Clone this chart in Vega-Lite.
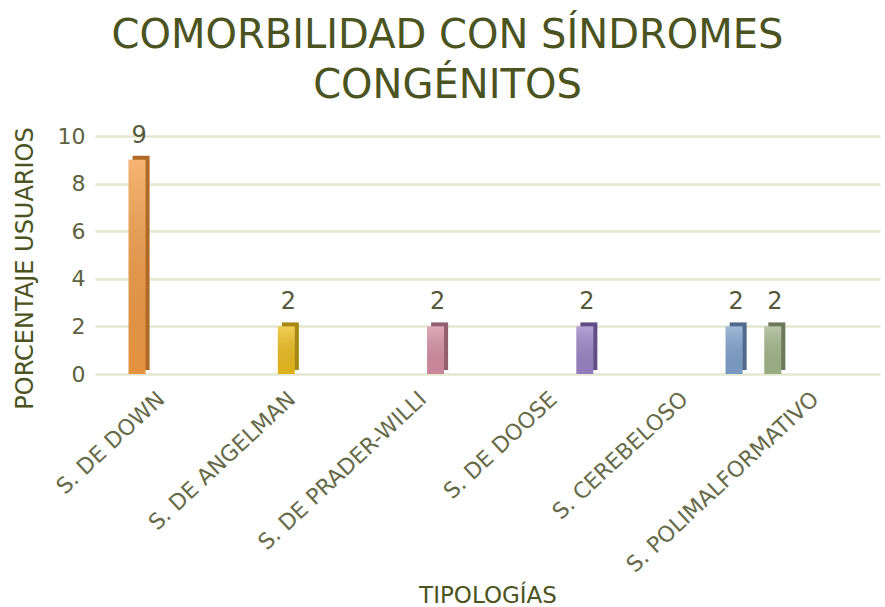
{
  "$schema": "https://vega.github.io/schema/vega-lite/v6.json",
  "width": 785,
  "height": 238,
  "autosize": {"type": "none"},
  "padding": {"left": 95, "top": 136, "right": 5, "bottom": 233},
  "background": "white",
  "config": {"view": {"stroke": null}, "font": "DejaVu Sans"},
  "title": {
    "text": ["COMORBILIDAD CON SÍNDROMES", "CONGÉNITOS"],
    "fontSize": 40,
    "fontWeight": "normal",
    "color": "#4B5320",
    "lineHeight": 50,
    "anchor": "middle",
    "dx": -40,
    "offset": 18
  },
  "data": {
    "values": [
      {"tipologia": "S. DE DOWN", "serie": "B", "valor": 9},
      {"tipologia": "S. DE ANGELMAN", "serie": "C", "valor": 2},
      {"tipologia": "S. DE PRADER-WILLI", "serie": "D", "valor": 2},
      {"tipologia": "S. DE DOOSE", "serie": "E", "valor": 2},
      {"tipologia": "S. CEREBELOSO", "serie": "F", "valor": 2},
      {"tipologia": "S. POLIMALFORMATIVO", "serie": "A", "valor": 2}
    ]
  },
  "encoding": {
    "x": {
      "field": "tipologia",
      "type": "nominal",
      "sort": null,
      "scale": {"paddingInner": 0, "paddingOuter": 0},
      "axis": {
        "title": "TIPOLOGÍAS",
        "titleFontSize": 23,
        "titleFontWeight": "normal",
        "titleColor": "#4B5320",
        "titleY": 221,
        "titleBaseline": "middle",
        "labelAngle": -43,
        "labelFontSize": 22,
        "labelColor": "#666A48",
        "labelPadding": 14,
        "labelOffset": -6,
        "labelLimit": 400,
        "ticks": false,
        "domain": false
      }
    },
    "y": {
      "field": "valor",
      "type": "quantitative",
      "scale": {"domain": [0, 10], "nice": false},
      "axis": {
        "title": "PORCENTAJE USUARIOS",
        "titleFontSize": 24,
        "titleFontWeight": "normal",
        "titleColor": "#4B5320",
        "titleX": -58,
        "titleY": 132,
        "values": [0, 2, 4, 6, 8, 10],
        "labelFontSize": 22,
        "labelColor": "#5E6240",
        "labelPadding": 10,
        "ticks": false,
        "domain": false,
        "grid": true,
        "gridColor": "#E4E7D2",
        "gridWidth": 2.5
      }
    }
  },
  "layer": [
    {
      "mark": {"type": "bar", "width": 17, "yOffset": -4},
      "encoding": {
        "xOffset": {
          "field": "serie",
          "type": "nominal",
          "scale": {"domain": ["A", "B", "C", "D", "E", "F"], "paddingInner": 0, "paddingOuter": 0.55, "align": 0.91}
        },
        "color": {
          "field": "tipologia",
          "type": "nominal",
          "scale": {
            "domain": ["S. DE DOWN", "S. DE ANGELMAN", "S. DE PRADER-WILLI", "S. DE DOOSE", "S. CEREBELOSO", "S. POLIMALFORMATIVO"],
            "range": ["#B06A28", "#A68812", "#925F70", "#614E86", "#50698C", "#6B785A"]
          },
          "legend": null
        }
      }
    },
    {
      "encoding": {
        "xOffset": {
          "field": "serie",
          "type": "nominal",
          "scale": {"domain": ["A", "B", "C", "D", "E", "F"], "paddingInner": 0, "paddingOuter": 0.55, "align": 0.71}
        }
      },
      "layer": [
        {
          "mark": {"type": "bar", "width": 17},
          "encoding": {
            "color": {
              "field": "tipologia",
              "type": "nominal",
              "scale": {
                "domain": ["S. DE DOWN", "S. DE ANGELMAN", "S. DE PRADER-WILLI", "S. DE DOOSE", "S. CEREBELOSO", "S. POLIMALFORMATIVO"],
                "range": ["#F39C45", "#EDBE1E", "#D68FA5", "#9D84C6", "#80A2CC", "#A2B68B"]
              },
              "legend": null
            }
          }
        },
        {
          "mark": {
            "type": "bar",
            "width": 17,
            "fill": {
              "x1": 0, "y1": 0, "x2": 0, "y2": 1,
              "gradient": "linear",
              "stops": [
                {"offset": 0, "color": "rgba(255,255,255,0.25)"},
                {"offset": 1, "color": "rgba(0,0,0,0.06)"}
              ]
            }
          },
          "encoding": {}
        },
        {
          "mark": {"type": "text", "dy": -24, "dx": 2, "fontSize": 24, "color": "#55593A"},
          "encoding": {"text": {"field": "valor", "type": "quantitative"}}
        }
      ]
    }
  ],
  "resolve": {"scale": {"color": "independent", "xOffset": "independent"}}
}
